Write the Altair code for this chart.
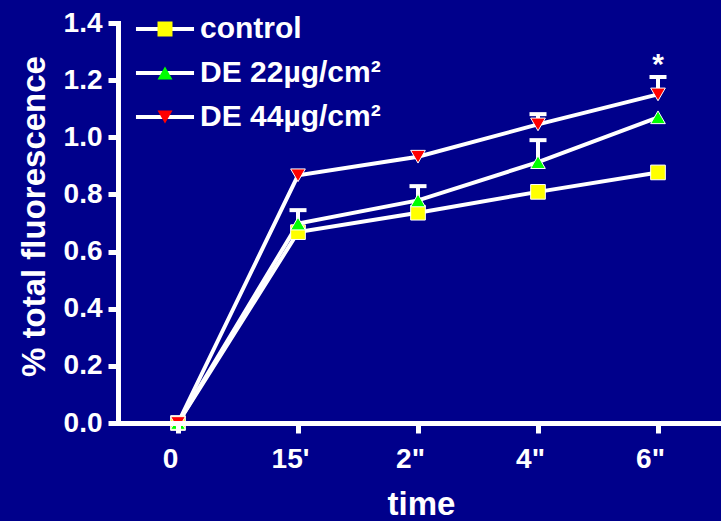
import altair as alt
import pandas as pd

# ---- data ----
times = ["0", "15'", '2"', '4"', '6"']
series_names = ["control", "DE 22µg/cm²", "DE 44µg/cm²"]
control = [0.0, 0.668, 0.736, 0.809, 0.877]
de22 = [0.0, 0.698, 0.779, 0.913, 1.070]
de44 = [0.0, 0.867, 0.932, 1.045, 1.150]
control_upper = [None, None, None, None, None]
de22_upper = [None, 0.745, 0.829, 0.990, None]
de44_upper = [None, None, None, 1.081, 1.211]
y_ticks = [0.0, 0.2, 0.4, 0.6, 0.8, 1.0, 1.2, 1.4]
star_time = ['6"']
star_value = [1.272]
star_text = ["*"]

marker_colors = ["#FFFF00", "#00FF00", "#FF0000"]
marker_shapes = ["square", "triangle-up", "triangle-down"]

rows = []
for name, vals, ups in zip(series_names, [control, de22, de44],
                           [control_upper, de22_upper, de44_upper]):
    for t, v, u in zip(times, vals, ups):
        rows.append({"time": t, "value": v, "upper": u,
                     "series": name, "series_line": name})
df = pd.DataFrame(rows)
star_df = pd.DataFrame({"time": star_time, "value": star_value, "txt": star_text})

FONT = "Liberation Sans"
BG = "#00008B"

x_enc = alt.X(
    "time:N", sort=times,
    scale=alt.Scale(type="point", padding=0.5),
    axis=alt.Axis(
        title="time", labelAngle=0, labelFontSize=28, labelFont=FONT,
        labelFontWeight="bold", labelColor="white", labelBaseline="alphabetic",
        labelPadding=34, labelOffset=-8, tickSize=10, tickWidth=5, tickColor="white",
        domainColor="white", domainWidth=5, domainCap="square",
        titleFontSize=33, titleFont=FONT, titleFontWeight="bold", titleColor="white",
        titleX=303, titleY=91, titleBaseline="alphabetic", titleAlign="center",
        grid=False, zindex=1,
    ),
)
y_axis = alt.Axis(
    title="% total fluorescence", values=y_ticks, format=".1f",
    labelFontSize=28, labelFont=FONT, labelFontWeight="bold", labelColor="white",
    labelPadding=6, tickSize=10, tickWidth=5, tickColor="white",
    domainColor="white", domainWidth=5, domainCap="square",
    titleFontSize=33, titleFont=FONT, titleFontWeight="bold", titleColor="white",
    titleX=-84, titleY=193, titleAngle=270, titleAlign="center",
    titleBaseline="middle", grid=False,
)
y_scale = alt.Scale(domain=[0, 1.4], nice=False, zero=True)

line_legend = alt.Legend(
    orient="none", legendX=32, legendY=-9, title=None, padding=0,
    symbolType="M-3.87,0H3.87", symbolSize=225, symbolStrokeWidth=4,
    symbolFillColor="transparent", symbolStrokeColor="white",
    labelFontSize=30, labelFont=FONT, labelFontWeight="bold",
    labelExpr="' '", labelOpacity=0, labelOffset=20, rowPadding=14,
)
marker_legend = alt.Legend(
    orient="none", legendX=32, legendY=-9, title=None, padding=0,
    symbolSize=225, symbolStrokeWidth=1, symbolStrokeColor="white",
    symbolOpacity=1,
    labelFontSize=30, labelFont=FONT, labelFontWeight="bold",
    labelColor="white", labelOffset=20, labelLimit=400, rowPadding=14,
)

base = alt.Chart(df)

lines = base.mark_line(strokeWidth=4).encode(
    x=x_enc,
    y=alt.Y("value:Q", scale=y_scale, axis=y_axis),
    stroke=alt.Stroke("series_line:N",
                      scale=alt.Scale(range=["white", "white", "white"]),
                      legend=line_legend),
)

err_rules = base.transform_filter("datum.upper != null").mark_rule(
    strokeWidth=4, color="white"
).encode(
    x=x_enc,
    y=alt.Y("value:Q", scale=y_scale, axis=y_axis),
    y2="upper:Q",
)

err_caps = base.transform_filter("datum.upper != null").mark_tick(
    orient="horizontal", size=17, thickness=4, color="white", opacity=1
).encode(
    x=x_enc,
    y=alt.Y("upper:Q", scale=y_scale, axis=y_axis),
)

points = base.mark_point(filled=True, size=215, stroke="white",
                         strokeWidth=1, opacity=1).encode(
    x=x_enc,
    y=alt.Y("value:Q", scale=y_scale, axis=y_axis),
    fill=alt.Fill("series:N",
                  scale=alt.Scale(domain=series_names, range=marker_colors),
                  legend=marker_legend),
    shape=alt.Shape("series:N",
                    scale=alt.Scale(domain=series_names, range=marker_shapes),
                    legend=marker_legend),
)

star = alt.Chart(star_df).mark_text(
    fontSize=30, font=FONT, fontWeight="bold", color="white",
    baseline="middle", dy=5
).encode(
    x=x_enc,
    y=alt.Y("value:Q", scale=y_scale, axis=y_axis),
    text="txt:N",
)

chart = alt.layer(lines, err_rules, err_caps, points, star).properties(
    width=600, height=400,
    background=BG,
    autosize=alt.AutoSizeParams(type="none"),
    padding={"left": 118, "top": 23, "right": 3, "bottom": 98},
).configure_view(stroke=None)

chart.save("out.html", embed_options={"renderer": "svg", "actions": False})
